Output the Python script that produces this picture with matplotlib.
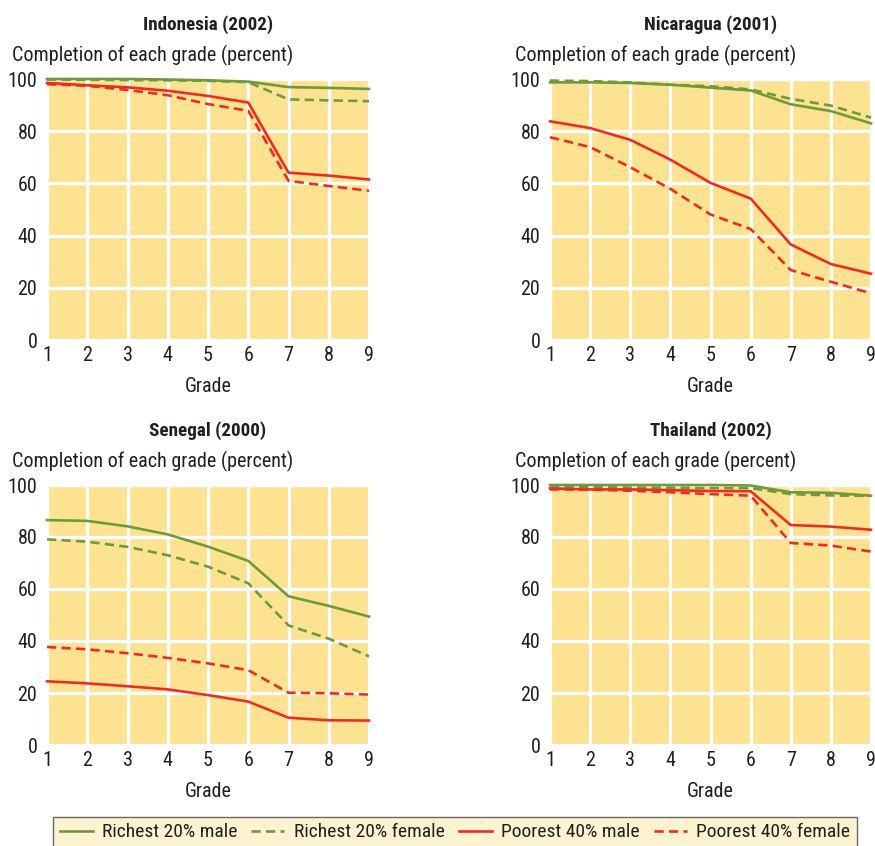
import matplotlib
matplotlib.use("Agg")
import matplotlib.pyplot as plt
from matplotlib.lines import Line2D
from matplotlib import font_manager as fm

# pick a narrow sans close to Univers Condensed
have = {f.name for f in fm.fontManager.ttflist}
for cand in ['Roboto Condensed', 'Archivo Narrow', 'Barlow Semi Condensed',
             'Sofia Sans Semi Condensed', 'Barlow Condensed', 'Liberation Sans Narrow']:
    if cand in have:
        NARROW = cand
        break
else:
    NARROW = 'DejaVu Sans'
plt.rcParams['font.family'] = [NARROW, 'DejaVu Sans']

grades = [1, 2, 3, 4, 5, 6, 7, 8, 9]

# Indonesia (2002)
ind_rich_m = [100, 100, 100, 99.8, 99.5, 99, 96.9, 96.6, 96.2]
ind_rich_f = [99.8, 99.7, 99.6, 99.5, 99.3, 98.8, 92.2, 91.8, 91.5]
ind_poor_m = [98.5, 97.6, 96.8, 95.5, 93.5, 91, 64.1, 63, 61.5]
ind_poor_f = [98, 97.4, 95.8, 93.8, 90.4, 87.8, 61, 59, 57.2]

# Nicaragua (2001)
nic_rich_m = [98.7, 98.7, 98.5, 97.8, 96.7, 95.6, 90.3, 87.7, 83]
nic_rich_f = [99.4, 99.2, 98.7, 97.8, 97.2, 96, 92.4, 89.8, 85.2]
nic_poor_m = [83.8, 81.2, 76.7, 69.1, 60.2, 54.2, 36.6, 29.1, 25.4]
nic_poor_f = [77.7, 73.9, 66.2, 57.9, 48.1, 42.5, 26.8, 22.3, 17.9]

# Senegal (2000)
sen_rich_m = [86.5, 86.2, 84.1, 81, 76.3, 70.8, 57.2, 53.5, 49.4]
sen_rich_f = [79.1, 78.2, 76.2, 73, 68.6, 62.2, 46, 40.9, 34.1]
sen_poor_m = [24.5, 23.7, 22.6, 21.4, 19.2, 16.7, 10.5, 9.5, 9.4]
sen_poor_f = [37.7, 36.8, 35.3, 33.5, 31.4, 28.8, 20.1, 19.9, 19.4]

# Thailand (2002)
tha_rich_m = [100, 100, 100, 100, 100, 99.8, 97.2, 97, 95.9]
tha_rich_f = [99.2, 99.2, 99, 99, 98.8, 98.8, 96.5, 96, 95.8]
tha_poor_m = [98.7, 98.3, 98.3, 98, 97.7, 97.6, 84.6, 84, 82.8]
tha_poor_f = [98.3, 98.2, 97.8, 97.2, 96.5, 95.9, 77.7, 76.7, 74.4]

titles = ["Indonesia (2002)", "Nicaragua (2001)", "Senegal (2000)", "Thailand (2002)"]
panels = [
    (ind_rich_m, ind_rich_f, ind_poor_m, ind_poor_f),
    (nic_rich_m, nic_rich_f, nic_poor_m, nic_poor_f),
    (sen_rich_m, sen_rich_f, sen_poor_m, sen_poor_f),
    (tha_rich_m, tha_rich_f, tha_poor_m, tha_poor_f),
]
series_names = ["Richest 20% male", "Richest 20% female",
                "Poorest 40% male", "Poorest 40% female"]

GREEN = '#6f9a3b'
RED = '#ee2c24'
BG = '#fde291'
TXT = '#231f20'
styles = [(GREEN, '-'), (GREEN, (0, (3.5, 2))), (RED, '-'), (RED, (0, (3.5, 2)))]

W, H = 875, 846
fig = plt.figure(figsize=(W / 100, H / 100), dpi=100)

# axes boxes in pixels: left, top(100), right, bottom(0)
boxes = [(47, 79, 369, 340), (550, 79, 871, 340),
         (47, 485, 369, 745), (550, 485, 871, 745)]

for (l, t, r, b), title, data in zip(boxes, titles, panels):
    ax = fig.add_axes([l / W, 1 - b / H, (r - l) / W, (b - t) / H])
    ax.set_facecolor(BG)
    for s in ax.spines.values():
        s.set_visible(False)
    ax.set_xlim(1, 9)
    ax.set_ylim(0, 100)
    ax.set_xticks(grades)
    ax.set_yticks([0, 20, 40, 60, 80, 100])
    ax.grid(True, color='white', linewidth=2.4)
    ax.set_axisbelow(True)
    ax.tick_params(length=0, labelsize=14.5, colors=TXT)
    ax.tick_params(axis='y', pad=7)
    ax.tick_params(axis='x', pad=4)
    for ys, (c, ls) in zip(data, styles):
        ax.plot(grades, ys, color=c, linestyle=ls, linewidth=1.9, clip_on=False)
    ax.set_xlabel("Grade", fontsize=14.5, color=TXT, labelpad=9)
    cx = (l + r) / 2 / W
    fig.text(cx, 1 - (t - 54) / H, title, ha='center', va='center',
             fontsize=13.8, fontweight='bold', color=TXT)
    fig.text((l - 35) / W, 1 - (t - 24) / H, "Completion of each grade (percent)",
             ha='left', va='center', fontsize=14.5, color=TXT)

handles = [Line2D([0], [0], color=c, linestyle=ls, linewidth=1.9) for c, ls in styles]
leg = fig.legend(handles, series_names, loc='lower center', ncol=4,
                 bbox_to_anchor=(455 / W, -0.014), fontsize=14,
                 frameon=True, fancybox=False, handlelength=1.7,
                 columnspacing=0.7, handletextpad=0.5, borderpad=0.35,
                 borderaxespad=0.5)
leg.get_frame().set_facecolor('#fdf0c6')
leg.get_frame().set_edgecolor('#444444')
leg.get_frame().set_linewidth(1.0)
for txt in leg.get_texts():
    txt.set_color(TXT)

fig.savefig("out.png", dpi=100, facecolor='white')
